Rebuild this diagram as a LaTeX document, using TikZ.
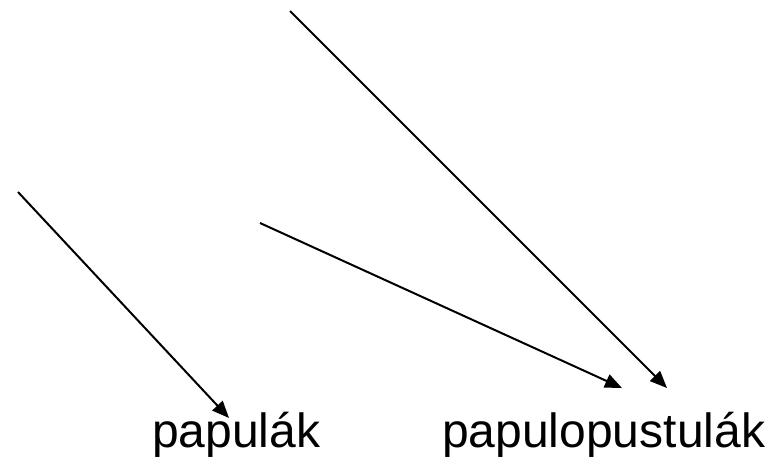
\documentclass[tikz,border=0pt]{standalone}
\usepackage{fontspec}
\setmainfont{Liberation Sans}
\usetikzlibrary{arrows.meta}
\begin{document}
\begin{tikzpicture}[x=1pt,y=-1pt,
  arr/.style={line width=2pt,-{Triangle[length=17pt,width=14pt]}},
  lbl/.style={anchor=base west,inner sep=0pt,font=\fontsize{48}{56}\selectfont}]
\useasboundingbox (0,0) rectangle (774,465);
\node[lbl] (t1) at (152,447) {papulák};
\node[lbl] (t2) at (442,447) {papulopustulák};
\coordinate (s1) at (18,192);
\coordinate (e1) at (229,418);
\coordinate (s2) at (260,223);
\coordinate (e2) at (622,388);
\coordinate (s3) at (290,11);
\coordinate (e3) at (667,388);
\draw[arr] (s1) -- (e1);
\draw[arr] (s2) -- (e2);
\draw[arr] (s3) -- (e3);
\end{tikzpicture}
\end{document}
